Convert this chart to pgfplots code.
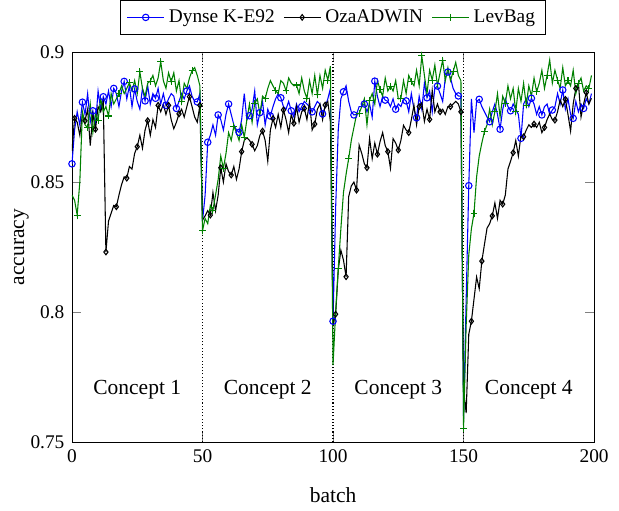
\documentclass[border=0pt]{standalone}
\usepackage{fontspec}
\setmainfont{Liberation Serif}
\usepackage{pgfplots}
\pgfplotsset{compat=1.18}
\usepackage{pgfplotstable}
\definecolor{lgreen}{rgb}{0,0.5,0}

\pgfplotstableread{
x y
0 0.857
1 0.870
2 0.877
3 0.872
4 0.8807
5 0.876
6 0.884
7 0.873
8 0.8774
9 0.872
10 0.885
11 0.878
12 0.8828
13 0.880
14 0.885
15 0.879
16 0.886
17 0.884
18 0.879
19 0.885
20 0.8887
21 0.882
22 0.887
23 0.879
24 0.8858
25 0.881
26 0.878
27 0.886
28 0.8812
29 0.887
30 0.880
31 0.884
32 0.8822
33 0.886
34 0.880
35 0.884
36 0.8795
37 0.882
38 0.884
39 0.883
40 0.8783
41 0.881
42 0.884
43 0.882
44 0.885
45 0.887
46 0.883
47 0.881
48 0.8808
49 0.884
50 0.835
51 0.845
52 0.8653
53 0.868
54 0.872
55 0.868
56 0.8758
57 0.874
58 0.870
59 0.876
60 0.880
61 0.876
62 0.872
63 0.870
64 0.8691
65 0.874
66 0.884
67 0.874
68 0.8755
69 0.878
70 0.885
71 0.872
72 0.8767
73 0.881
74 0.872
75 0.878
76 0.8754
77 0.879
78 0.882
79 0.884
80 0.8824
81 0.879
82 0.878
83 0.881
84 0.8774
85 0.875
86 0.880
87 0.877
88 0.879
89 0.881
90 0.880
91 0.879
92 0.877
93 0.879
94 0.881
95 0.880
96 0.8762
97 0.879
98 0.882
99 0.886
100 0.7965
101 0.840
102 0.870
103 0.882
104 0.8847
105 0.887
106 0.881
107 0.877
108 0.8758
109 0.876
110 0.879
111 0.879
112 0.880
113 0.877
114 0.880
115 0.875
116 0.8888
117 0.883
118 0.879
119 0.883
120 0.8815
121 0.881
122 0.879
123 0.882
124 0.878
125 0.880
126 0.879
127 0.882
128 0.8812
129 0.877
130 0.884
131 0.878
132 0.8747
133 0.883
134 0.878
135 0.888
136 0.8824
137 0.885
138 0.877
139 0.886
140 0.8869
141 0.884
142 0.881
143 0.890
144 0.8923
145 0.890
146 0.886
147 0.884
148 0.8831
149 0.883
150 0.759
151 0.805
152 0.8486
153 0.882
154 0.869
155 0.881
156 0.8818
157 0.879
158 0.877
159 0.875
160 0.8732
161 0.877
162 0.880
163 0.876
164 0.8703
165 0.878
166 0.882
167 0.879
168 0.8774
169 0.880
170 0.878
171 0.876
172 0.8668
173 0.880
174 0.882
175 0.879
176 0.8822
177 0.880
178 0.876
179 0.879
180 0.8758
181 0.879
182 0.880
183 0.876
184 0.8777
185 0.879
186 0.884
187 0.880
188 0.8854
189 0.878
190 0.882
191 0.876
192 0.8745
193 0.881
194 0.877
195 0.880
196 0.8783
197 0.882
198 0.880
199 0.884
}\dynse

\pgfplotstableread{
x y
0 0.862
1 0.8745
2 0.873
3 0.868
4 0.876
5 0.8736
6 0.878
7 0.864
8 0.876
9 0.8703
10 0.879
11 0.877
12 0.881
13 0.8231
14 0.835
15 0.838
16 0.841
17 0.8405
18 0.845
19 0.849
20 0.852
21 0.8515
22 0.856
23 0.855
24 0.861
25 0.8636
26 0.868
27 0.863
28 0.870
29 0.8736
30 0.868
31 0.874
32 0.871
33 0.8795
34 0.877
35 0.880
36 0.876
37 0.8795
38 0.874
39 0.8705
40 0.873
41 0.8762
42 0.878
43 0.875
44 0.879
45 0.8828
46 0.879
47 0.875
48 0.873
49 0.8795
50 0.8354
51 0.837
52 0.839
53 0.8373
54 0.846
55 0.839
56 0.845
57 0.8555
58 0.850
59 0.857
60 0.854
61 0.8527
62 0.856
63 0.851
64 0.855
65 0.8617
66 0.866
67 0.867
68 0.866
69 0.8645
70 0.862
71 0.864
72 0.868
73 0.8696
74 0.866
75 0.858
76 0.870
77 0.8744
78 0.871
79 0.876
80 0.871
81 0.8777
82 0.874
83 0.869
84 0.876
85 0.8726
86 0.879
87 0.873
88 0.877
89 0.8783
90 0.874
91 0.881
92 0.870
93 0.8723
94 0.878
95 0.880
96 0.874
97 0.8796
98 0.881
99 0.873
100 0.795
101 0.7992
102 0.8162
103 0.8238
104 0.820
105 0.8136
106 0.8444
107 0.8485
108 0.850
109 0.8469
110 0.8642
111 0.861
112 0.857
113 0.8555
114 0.8668
115 0.859
116 0.865
117 0.8607
118 0.8655
119 0.869
120 0.864
121 0.8617
122 0.8553
123 0.8667
124 0.865
125 0.8623
126 0.866
127 0.8718
128 0.870
129 0.869
130 0.874
131 0.8795
132 0.872
133 0.879
134 0.8805
135 0.8733
136 0.878
137 0.8741
138 0.8853
139 0.877
140 0.880
141 0.877
142 0.878
143 0.876
144 0.879
145 0.879
146 0.880
147 0.881
148 0.880
149 0.877
150 0.770
151 0.7612
152 0.7915
153 0.7965
154 0.805
155 0.8135
156 0.809
157 0.8196
158 0.826
159 0.8323
160 0.834
161 0.837
162 0.842
163 0.836
164 0.843
165 0.8415
166 0.845
167 0.855
168 0.858
169 0.8613
170 0.866
171 0.860
172 0.868
173 0.8674
174 0.870
175 0.872
176 0.871
177 0.8723
178 0.871
179 0.873
180 0.869
181 0.871
182 0.874
183 0.8762
184 0.874
185 0.8738
186 0.877
187 0.8816
188 0.879
189 0.8818
190 0.876
191 0.8696
192 0.880
193 0.886
194 0.888
195 0.875
196 0.880
197 0.8844
198 0.880
199 0.8822
}\oza

\pgfplotstableread{
x y
0 0.845
1 0.843
2 0.8373
3 0.850
4 0.877
5 0.872
6 0.871
7 0.880
8 0.869
9 0.876
10 0.8738
11 0.882
12 0.877
13 0.879
14 0.8754
15 0.884
16 0.880
17 0.882
18 0.8841
19 0.887
20 0.884
21 0.886
22 0.8882
23 0.885
24 0.889
25 0.884
26 0.8924
27 0.886
28 0.883
29 0.888
30 0.8888
31 0.891
32 0.887
33 0.890
34 0.8963
35 0.889
36 0.886
37 0.892
38 0.8886
39 0.892
40 0.885
41 0.889
42 0.8809
43 0.888
44 0.886
45 0.890
46 0.8928
47 0.894
48 0.891
49 0.887
50 0.8313
51 0.836
52 0.834
53 0.841
54 0.8392
55 0.845
56 0.851
57 0.860
58 0.8553
59 0.861
60 0.869
61 0.866
62 0.8715
63 0.869
64 0.866
65 0.872
66 0.8672
67 0.874
68 0.880
69 0.873
70 0.8803
71 0.882
72 0.876
73 0.883
74 0.8820
75 0.886
76 0.889
77 0.887
78 0.8851
79 0.884
80 0.889
81 0.888
82 0.8851
83 0.890
84 0.888
85 0.887
86 0.8873
87 0.884
88 0.890
89 0.885
90 0.8822
91 0.889
92 0.884
93 0.891
94 0.8835
95 0.891
96 0.886
97 0.893
98 0.8892
99 0.8946
100 0.7796
101 0.800
102 0.8168
103 0.832
104 0.846
105 0.853
106 0.8591
107 0.866
108 0.871
109 0.876
110 0.8764
111 0.879
112 0.882
113 0.872
114 0.8815
115 0.884
116 0.880
117 0.889
118 0.8856
119 0.883
120 0.890
121 0.885
122 0.8869
123 0.885
124 0.889
125 0.882
126 0.8822
127 0.889
128 0.884
129 0.891
130 0.8886
131 0.887
132 0.893
133 0.887
134 0.8985
135 0.891
136 0.884
137 0.893
138 0.8892
139 0.895
140 0.887
141 0.892
142 0.8969
143 0.889
144 0.894
145 0.889
146 0.8924
147 0.896
148 0.891
149 0.889
150 0.7553
151 0.795
152 0.822
153 0.832
154 0.838
155 0.852
156 0.860
157 0.865
158 0.8694
159 0.872
160 0.878
161 0.872
162 0.877
163 0.884
164 0.875
165 0.883
166 0.8803
167 0.887
168 0.882
169 0.886
170 0.877
171 0.886
172 0.881
173 0.888
174 0.8796
175 0.887
176 0.883
177 0.890
178 0.8847
179 0.888
180 0.893
181 0.886
182 0.891
183 0.897
184 0.888
185 0.893
186 0.8892
187 0.886
188 0.894
189 0.887
190 0.889
191 0.887
192 0.893
193 0.884
194 0.888
195 0.890
196 0.885
197 0.887
198 0.886
199 0.891
}\levbag

\begin{document}
\begin{tikzpicture}
\begin{axis}[
  scale only axis,
  width=243pt, height=181.6pt,
  xmin=0, xmax=200, ymin=0.75, ymax=0.9,
  xtick={0,50,100,150,200},
  ytick={0.75,0.8,0.85,0.9},
  /pgf/number format/assume math mode=true,
  tick label style={font=\small},
  xlabel={batch}, ylabel={accuracy},
  xlabel style={yshift=-4.5pt},
  ylabel style={yshift=-6pt},
  legend columns=3,
  legend style={at={(0.5,1.045)}, anchor=south, font=\small,
    /tikz/every even column/.append style={column sep=2pt}},
  every axis plot/.append style={line width=0.5pt},
]
\addplot[forget plot, black, densely dotted, line width=0.6pt] coordinates {(50,0.75) (50,0.9)};
\addplot[forget plot, black, densely dotted, line width=0.6pt] coordinates {(100,0.75) (100,0.9)};
\addplot[forget plot, black, densely dotted, line width=0.6pt] coordinates {(150,0.75) (150,0.9)};
\addplot[blue, mark=o, mark size=1.5pt, mark repeat=4, mark phase=1, mark options={solid}] table[x=x,y=y] {\dynse};
\addlegendentry{Dynse K-E92}
\addplot[black, mark=diamond, mark size=1.3pt, mark repeat=4, mark phase=2, mark options={solid}] table[x=x,y=y] {\oza};
\addlegendentry{OzaADWIN}
\addplot[lgreen, mark=+, mark size=1.6pt, mark repeat=4, mark phase=3, mark options={solid}] table[x=x,y=y] {\levbag};
\addlegendentry{LevBag}
\node at (axis cs:25,0.77) {Concept 1};
\node at (axis cs:75,0.77) {Concept 2};
\node at (axis cs:125,0.77) {Concept 3};
\node at (axis cs:175,0.77) {Concept 4};
\end{axis}
\path (current axis.south west) ++(-33.5pt,-32pt) coordinate (bbA);
\path (current axis.north east) ++(11.6pt,24.2pt) coordinate (bbB);
\path (bbA) (bbB);
\end{tikzpicture}
\end{document}
